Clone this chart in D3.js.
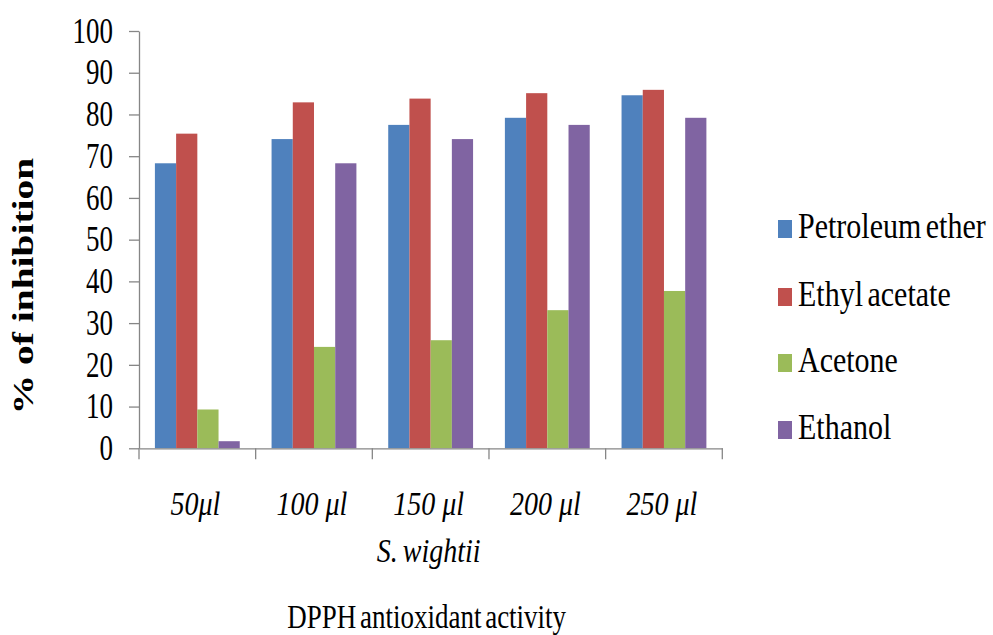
<!DOCTYPE html>
<html>
<head>
<meta charset="utf-8">
<script src="https://cdn.jsdelivr.net/npm/d3@7"></script>
<style>
  body { margin: 0; background: #fff; }
  text { font-family: "Liberation Serif", "Times New Roman", serif; fill: #000; }
</style>
</head>
<body>
<svg id="chart" width="993" height="635"></svg>
<script>
// DPPH radical scavenging (% inhibition) of S. wightii extracts by dose
const doses = ["50μl", "100 μl", "150 μl", "200 μl", "250 μl"];
const solvents = ["Petroleum ether", "Ethyl acetate", "Acetone", "Ethanol"];
const petroleumEther = [68.3, 74.1, 77.5, 79.2, 84.6];
const ethylAcetate   = [75.4, 82.9, 83.8, 85.1, 85.9];
const acetone        = [9.3, 24.3, 25.9, 33.1, 37.7];
const ethanol        = [1.7, 68.3, 74.1, 77.5, 79.2];
const yTicks = [0, 10, 20, 30, 40, 50, 60, 70, 80, 90, 100];
const colors = ["#4F81BD", "#C0504D", "#9BBB59", "#8064A2"];

const seriesValues = [petroleumEther, ethylAcetate, acetone, ethanol];
const rows = doses.map((d, i) => ({
  dose: d,
  values: solvents.map((s, j) => ({ solvent: s, value: seriesValues[j][i], color: colors[j] }))
}));

const svg = d3.select("#chart");
const plot = { left: 139, right: 722.3, top: 31, bottom: 448.3 };

const x0 = d3.scaleBand().domain(doses).range([plot.left, plot.right]).padding(0);
const x1 = d3.scaleBand().domain(solvents).range([0, x0.bandwidth()]).paddingInner(0).paddingOuter(0.75);
const y = d3.scaleLinear().domain([0, 100]).range([plot.bottom, plot.top]);

const axisColor = "#868686";

// bars
const groups = svg.append("g").selectAll("g").data(rows).join("g")
  .attr("transform", d => `translate(${x0(d.dose)},0)`);
groups.selectAll("rect").data(d => d.values).join("rect")
  .attr("x", d => x1(d.solvent))
  .attr("y", d => y(d.value))
  .attr("width", x1.bandwidth())
  .attr("height", d => y(0) - y(d.value))
  .attr("fill", d => d.color);

// y axis
const yAxis = svg.append("g")
  .attr("transform", `translate(${plot.left},0)`)
  .call(d3.axisLeft(y).tickValues(yTicks).tickSize(10).tickSizeOuter(0).tickPadding(16));
yAxis.select(".domain").attr("stroke", axisColor).attr("stroke-width", 1.3);
yAxis.selectAll(".tick line").attr("stroke", axisColor).attr("stroke-width", 1.3);
yAxis.selectAll(".tick text")
  .style("font-size", "27px")
  .attr("transform", "scale(1,1.3)");

// x axis: line plus category boundary ticks
const xAxis = svg.append("g")
  .attr("transform", `translate(0,${plot.bottom})`)
  .call(d3.axisBottom(x0).tickSize(0).tickSizeOuter(0).tickFormat(""));
xAxis.select(".domain").attr("stroke", axisColor).attr("stroke-width", 1.3);
const bounds = doses.map(d => x0(d)).concat([x0.range()[1]]);
xAxis.selectAll("line.bound").data(bounds).join("line")
  .attr("class", "bound")
  .attr("x1", d => d).attr("x2", d => d)
  .attr("y1", 0).attr("y2", 11)
  .attr("stroke", axisColor).attr("stroke-width", 1.3);

// category labels
svg.append("g").selectAll("text").data(doses).join("text")
  .attr("transform", d => `translate(${x0(d) + x0.bandwidth() / 2 - 2},515) scale(1,1.22)`)
  .attr("text-anchor", "middle")
  .style("font-style", "italic")
  .style("font-size", "28px")
  .text(d => d);

// species name under the category labels
svg.append("text")
  .attr("transform", `translate(${(plot.left + plot.right) / 2 - 2},562) scale(1,1.22)`)
  .attr("text-anchor", "middle")
  .style("font-style", "italic")
  .style("font-size", "28px")
  .style("word-spacing", "-2px")
  .text("S. wightii");

// x axis title
svg.append("text")
  .attr("transform", `translate(${(plot.left + plot.right) / 2 - 4},628) scale(1,1.22)`)
  .attr("text-anchor", "middle")
  .style("font-size", "27px")
  .style("word-spacing", "-3px")
  .text("DPPH antioxidant activity");

// y axis title
svg.append("text")
  .attr("transform", "translate(33,286) rotate(-90) scale(1.36,1)")
  .attr("text-anchor", "middle")
  .style("font-size", "29px")
  .style("font-weight", "bold")
  .text("% of inhibition");

// legend
const legendY = [229, 297, 363, 430];
const legend = svg.append("g").selectAll("g").data(solvents).join("g")
  .attr("transform", (d, i) => `translate(778,${legendY[i]})`);
legend.append("rect")
  .attr("x", 0).attr("y", -9).attr("width", 14).attr("height", 18)
  .attr("fill", (d, i) => colors[i]);
legend.append("text")
  .attr("transform", "translate(20,9) scale(1,1.22)")
  .style("font-size", "30px")
  .style("word-spacing", "-3px")
  .text(d => d);
</script>
</body>
</html>
